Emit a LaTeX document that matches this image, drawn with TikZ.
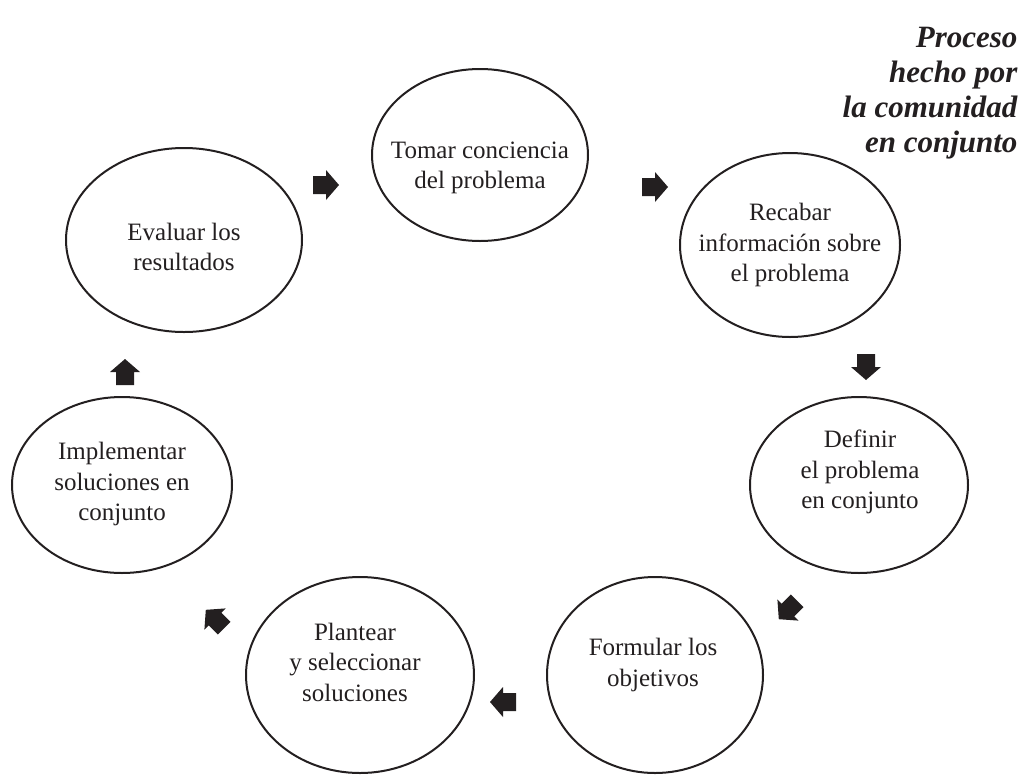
\documentclass[tikz,border=0pt]{standalone}
\usepackage{fontspec}
\setmainfont{Liberation Serif}
\usetikzlibrary{shapes.geometric}
\definecolor{ink}{HTML}{231F20}
\tikzset{
  stage/.style={ellipse, draw=ink, line width=2pt, inner sep=0pt},
  stagetext/.style={align=center, text=ink, inner sep=0pt,
    font=\fontsize{25}{30.5}\selectfont},
  blockarrow/.style={fill=ink}
}
\newcommand\barrow[4]{%
  \fill[blockarrow, shift={(#2,#3)}, rotate=#4]
    (-13,-9) -- (0,-9) -- (0,-15) -- (13,0) -- (0,15) -- (0,9) -- (-13,9) -- cycle;
  \coordinate (#1) at (#2,#3);}
\begin{document}
\begin{tikzpicture}[x=1pt,y=-1pt]
\useasboundingbox (0,0) rectangle (1031,777);
\node[stage, minimum width=216pt, minimum height=172pt] (e1) at (480,155) {};
\node[stage, minimum width=236pt, minimum height=184pt] (e2) at (184,240) {};
\node[stage, minimum width=220pt, minimum height=184pt] (e3) at (790,245) {};
\node[stage, minimum width=218pt, minimum height=176pt] (e4) at (859,485) {};
\node[stage, minimum width=216pt, minimum height=196pt] (e5) at (655,675) {};
\node[stage, minimum width=228pt, minimum height=196pt] (e6) at (360,675) {};
\node[stage, minimum width=220pt, minimum height=176pt] (e7) at (122,485) {};
\node[stagetext] (t1) at (480,168) {Tomar conciencia\\del problema};
\node[stagetext] (t2) at (184,247) {Evaluar los\\resultados};
\node[stagetext] (t3) at (790,245) {Recabar\\información sobre\\el problema};
\node[stagetext] (t4) at (860,472) {Definir\\el problema\\en conjunto};
\node[stagetext] (t5) at (653,665) {Formular los\\objetivos};
\node[stagetext] (t6) at (355,662) {Plantear\\y seleccionar\\soluciones};
\node[stagetext] (t7) at (122,484) {Implementar\\soluciones en\\conjunto};
\node[anchor=north east, align=right, text=ink, font=\bfseries\itshape\fontsize{31}{35}\selectfont] (title) at (1021,24) {Proceso\\hecho por\\la comunidad\\en conjunto};
\barrow{a1}{326}{185}{0}
\barrow{a2}{655}{187}{0}
\barrow{a3}{866}{367}{-90}
\barrow{a4}{788}{610}{-135}
\barrow{a5}{503}{702}{180}
\barrow{a6}{215}{619}{135}
\barrow{a7}{125}{372}{90}
\end{tikzpicture}
\end{document}
